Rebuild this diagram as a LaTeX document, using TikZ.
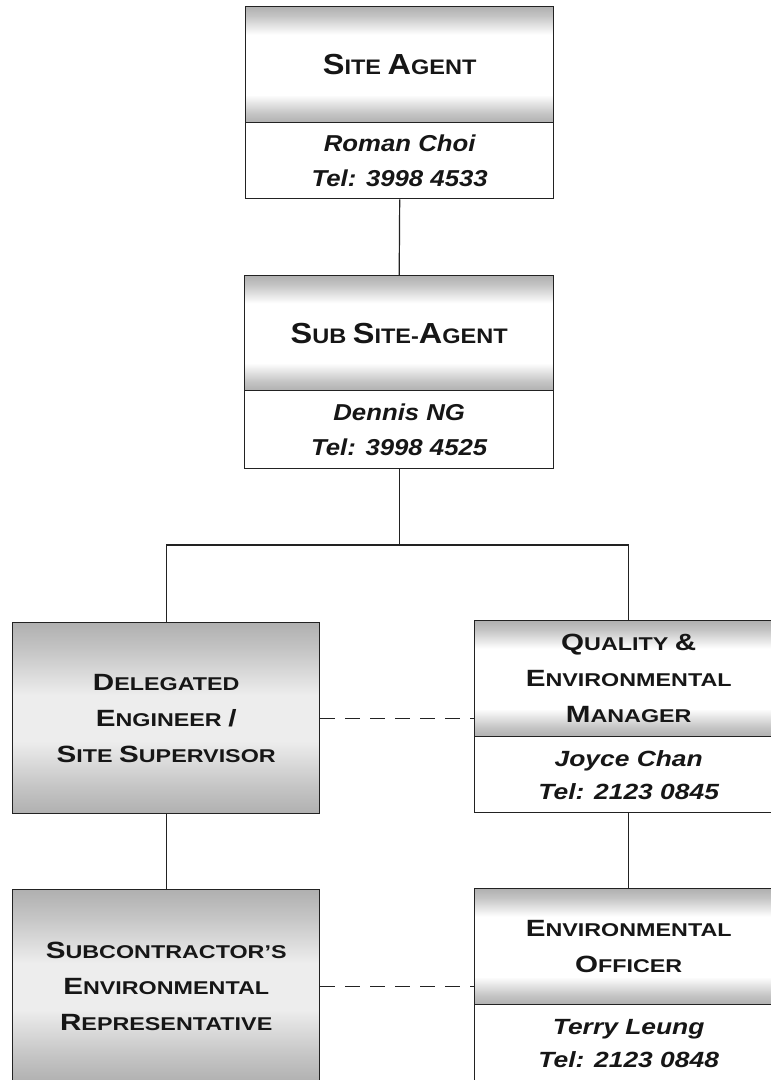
\documentclass[tikz,border=0pt]{standalone}
\usepackage{fontspec}
\setmainfont{Liberation Sans}
\newfontfamily\upf[FakeStretch=1.12]{Liberation Sans}
\newfontfamily\lowf[FakeStretch=1.26]{Liberation Sans}
\newfontfamily\lownm[FakeStretch=1.2]{Liberation Sans}
\definecolor{textC}{HTML}{161616}
\definecolor{lineC}{HTML}{222222}
\colorlet{bandA}{black!31}
\colorlet{bandB}{black!23}
\colorlet{bandM}{black!7}
\colorlet{bandW}{white}
\pgfdeclareverticalshading{band}{100bp}{color(0bp)=(bandA); color(25bp)=(bandA); color(29bp)=(bandB); color(37bp)=(bandW); color(63bp)=(bandW); color(71bp)=(bandB); color(75bp)=(bandA); color(100bp)=(bandA)}
\pgfdeclareverticalshading{fullband}{100bp}{color(0bp)=(bandA); color(25bp)=(bandA); color(32bp)=(bandB); color(44bp)=(bandM); color(56bp)=(bandM); color(68bp)=(bandB); color(75bp)=(bandA); color(100bp)=(bandA)}
\newcommand\UpSz{\def\Bsz{29}\def\Ssz{21}\def\Lsk{36}\fontsize{21}{36}\selectfont}
\newcommand\LowSz{\def\Bsz{23.5}\def\Ssz{18.5}\def\Lsk{36}\fontsize{18.5}{36}\selectfont}
\newcommand\Bg[1]{{\fontsize{\Bsz}{\Lsk}\selectfont #1}}
\newcommand\Sm[1]{{\fontsize{\Ssz}{\Lsk}\selectfont #1}}
\tikzset{
  x=1pt, y=-1pt,
  box/.style={draw=lineC, line width=1.4pt, inner sep=0pt, align=center, text=textC, anchor=north west},
  hdup/.style={box, shade, shading=band, font=\upf\bfseries\UpSz},
  hdlow/.style={box, shade, shading=band, font=\lowf\bfseries\LowSz},
  fulllow/.style={box, shade, shading=fullband, font=\lowf\bfseries\LowSz},
  nmup/.style={box, fill=white, font=\upf\bfseries\itshape\fontsize{23}{35}\selectfont},
  nmlow/.style={box, fill=white, font=\lownm\bfseries\itshape\fontsize{22}{33}\selectfont},
  conn/.style={draw=lineC, line width=1.2pt},
  dconn/.style={conn, dash pattern=on 15pt off 10pt}
}
\begin{document}
\begin{tikzpicture}
\useasboundingbox (0,0) rectangle (771,1080);
\clip (0,0) rectangle (771,1080);
\fill[white] (0,0) rectangle (771,1080);
% Site agent
\node[hdup, minimum width=308pt, minimum height=116pt] (SAh) at (245,6)
  {\Bg{S}\Sm{ITE} \Bg{A}\Sm{GENT}};
\node[nmup, minimum width=308pt, minimum height=76pt] (SAn) at (245,122)
  {Roman Choi\\Tel: 3998 4533};
% Sub site agent
\node[hdup, minimum width=309pt, minimum height=115pt] (SSAh) at (244,275)
  {\Bg{S}\Sm{UB} \Bg{S}\Sm{ITE-}\Bg{A}\Sm{GENT}};
\node[nmup, minimum width=309pt, minimum height=78pt] (SSAn) at (244,390)
  {Dennis NG\\Tel: 3998 4525};
% Delegated engineer
\node[fulllow, minimum width=307pt, minimum height=191pt] (DE) at (12,622)
  {\Bg{D}\Sm{ELEGATED}\\\Bg{E}\Sm{NGINEER} \Bg{/}\\\Bg{S}\Sm{ITE} \Bg{S}\Sm{UPERVISOR}};
% Quality & environmental manager
\node[hdlow, minimum width=308pt, minimum height=116pt] (QEMh) at (474,620)
  {\Bg{Q}\Sm{UALITY} \Bg{\&}\\\Bg{E}\Sm{NVIRONMENTAL}\\\Bg{M}\Sm{ANAGER}};
\node[nmlow, minimum width=308pt, minimum height=76pt] (QEMn) at (474,736)
  {Joyce Chan\\Tel: 2123 0845};
% Subcontractor's environmental representative
\node[fulllow, minimum width=307pt, minimum height=193pt] (SER) at (12,889)
  {\Bg{S}\Sm{UBCONTRACTOR’S}\\\Bg{E}\Sm{NVIRONMENTAL}\\\Bg{R}\Sm{EPRESENTATIVE}};
% Environmental officer
\node[hdlow, minimum width=308pt, minimum height=116pt] (EOh) at (474,888)
  {\Bg{E}\Sm{NVIRONMENTAL}\\\Bg{O}\Sm{FFICER}};
\node[nmlow, minimum width=308pt, minimum height=78pt] (EOn) at (474,1004)
  {Terry Leung\\Tel: 2123 0848};
% connectors
\coordinate (bus) at (397,545);
\draw[conn] (SAn.south) -- (SSAh.north);
\draw[conn] (SSAn.south) -- (SSAn.south |- bus);
\draw[conn] (DE.north) -- (DE.north |- bus) -- (QEMh.north |- bus) -- (QEMh.north);
\draw[conn] (DE.south) -- (SER.north);
\draw[conn] (QEMn.south) -- (EOh.north);
\draw[dconn] (DE.east) -- (DE.east -| QEMh.west);
\draw[dconn] (SER.east) -- (SER.east -| EOh.west);
\end{tikzpicture}
\end{document}
